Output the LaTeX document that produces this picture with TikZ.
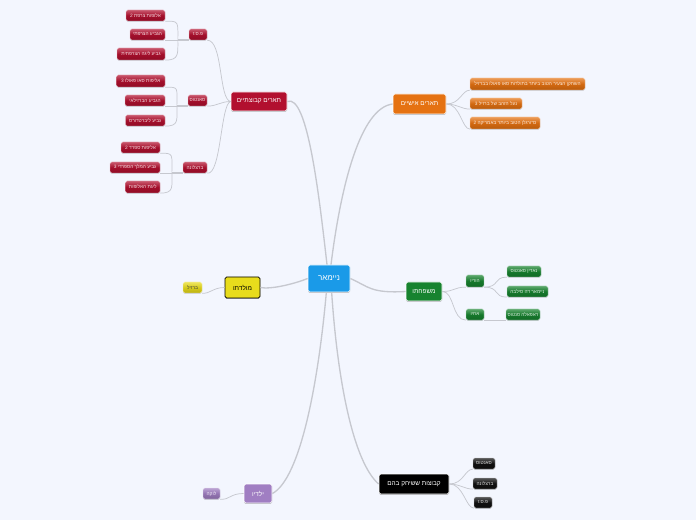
\documentclass[tikz,border=0pt]{standalone}
\usepackage{fontspec}
\usetikzlibrary{shadows}
\TeXXeTstate=1
\newfontfamily\heb[Script=Hebrew]{Liberation Sans}
\newcommand\hh[1]{\heb\beginR #1\endR}
\definecolor{bgc}{HTML}{F3F6FE}
\definecolor{linec}{HTML}{C6C8CF}
\definecolor{redc}{HTML}{B2102F}
\definecolor{orc}{HTML}{E57212}
\definecolor{grc}{HTML}{17832F}
\definecolor{yec}{HTML}{E8DC1C}
\definecolor{puc}{HTML}{A07EC2}
\definecolor{blc}{HTML}{1A9AE8}
\definecolor{bkc}{HTML}{111111}
\tikzset{
  base/.style={rounded corners=1.2pt,inner sep=0pt,text=white},
  dim/.style 2 args={minimum width=#1*0.75pt,minimum height=#2*0.75pt},
  mainn/.style={base,draw=white,line width=0.6pt,font=\fontsize{4.8pt}{6pt}\selectfont,drop shadow={shadow xshift=0pt,shadow yshift=-0.7pt,fill=black,opacity=.3}},
  leaf/.style={base,draw=white!70!#1,line width=0.2pt,font=\fontsize{3.6pt}{5pt}\selectfont,text=white!85!#1,top color=#1!70!white,bottom color=#1!80!black,middle color=#1!92!black,drop shadow={shadow xshift=0pt,shadow yshift=-0.6pt,fill=black,opacity=.15}},
  conn/.style={draw=linec,line width=0.55pt},
  trunk/.style={draw=linec,line width=1pt},
  barline/.style={draw=linec,line width=1pt},
}
\begin{document}
\begin{tikzpicture}[x=0.75pt,y=-0.75pt]
\fill[bgc] (0,0) rectangle (696,520);
\useasboundingbox (0,0) rectangle (696,520);
\path
 (329,278.5) node[mainn,fill=blc,dim={42}{27},font=\fontsize{6pt}{7pt}\selectfont] (c) {\hh{ניימאר}}
 (259,101.5) node[mainn,fill=redc,dim={56}{19}] (tq) {\hh{תארים קבוצתיים}}
 (419.5,104) node[mainn,fill=orc,dim={53}{20}] (ti) {\hh{תארים אישיים}}
 (424,291.5) node[mainn,fill=grc,dim={36}{19}] (fam) {\hh{משפחתו}}
 (242.5,287.5) node[mainn,fill=yec,draw=black,text=black,dim={35}{21}] (mol) {\hh{מולדתו}}
 (414,484) node[mainn,fill=black,dim={70}{20}] (kv) {\hh{קבוצות ששיחק בהם}}
 (258,493.5) node[mainn,fill=puc,dim={28}{19}] (yl) {\hh{ילדיו}}
 (198,34.5) node[leaf=redc,dim={18}{11}] (psg) {\hh{פ.ס.ז}}
 (197.5,100.5) node[leaf=redc,dim={19}{11}] (san) {\hh{סאנטוס}}
 (195,167.5) node[leaf=redc,dim={24}{11}] (bar) {\hh{ברצלונה}}
 (475,281) node[leaf=grc,dim={18}{12}] (hor) {\hh{הוריו}}
 (475,314.5) node[leaf=grc,dim={18}{11}] (ach) {\hh{אחיו}}
 (145.5,15.5) node[leaf=redc,dim={39}{11}] (a1) {\hh{אלופות צרפת 2}}
 (147.5,34.5) node[leaf=redc,dim={35}{11}] (a2) {\hh{הגביע הצרפתי}}
 (141,54) node[leaf=redc,dim={48}{12}] (a3) {\hh{גביע ליגה הצרפתית}}
 (140.75,81) node[leaf=redc,dim={48.5}{12}] (b1) {\hh{אליפות סאו פאולו 3}}
 (145,100.5) node[leaf=redc,dim={40}{11}] (b2) {\hh{הגביע הברזילאי}}
 (145.25,120.5) node[leaf=redc,dim={39.5}{11}] (b3) {\hh{גביע ליברטדורס}}
 (140.5,147.5) node[leaf=redc,dim={39}{11}] (d1) {\hh{אליפות ספרד 2}}
 (135,167.5) node[leaf=redc,dim={50}{11}] (d2) {\hh{גביע המלך הספרדי 3}}
 (142.75,187) node[leaf=redc,dim={34.5}{12}] (d3) {\hh{ליגת האלופות}}
 (527.5,84) node[leaf=orc,dim={115}{12}] (e1) {\hh{השחקן הצעיר הטוב ביותר בתולדות סאו פאולו בברזיל}}
 (496,103.5) node[leaf=orc,dim={52}{11}] (e2) {\hh{נעל הזהב של ברזיל 3}}
 (505,123) node[leaf=orc,dim={70}{12}] (e3) {\hh{כדורגלן הטוב ביותר באמריקה 2}}
 (524,271.5) node[leaf=grc,dim={34}{11}] (f1) {\hh{נאדין סאנטוס}}
 (527.5,291.5) node[leaf=grc,dim={41}{11}] (f2) {\hh{ניימאר דה סילבה}}
 (523,314.5) node[leaf=grc,dim={34}{11}] (f3) {\hh{ראפאלה סנטוס}}
 (192.5,287.5) node[leaf=yec,text=black!75,dim={19}{11}] (m1) {\hh{ברזיל}}
 (484,463.5) node[leaf=bkc,dim={22}{11}] (k1) {\hh{סאנטוס}}
 (485,483.5) node[leaf=bkc,dim={24}{11}] (k2) {\hh{ברצלונה}}
 (483,502.5) node[leaf=bkc,dim={18}{11}] (k3) {\hh{פ.ס.ז}}
 (211.5,493.5) node[leaf=puc,dim={17}{11}] (y1) {\hh{לוקה}};
\draw[trunk] ([xshift=-1.5pt]c.north) .. controls +(-8,-70) and +(20,-8) .. (tq.east);
\draw[trunk] ([xshift=1.5pt]c.north) .. controls +(10,-80) and +(-32,4) .. (ti.west);
\draw[trunk] (c.east) .. controls +(18,8) and +(-35,2) .. (fam.west);
\draw[trunk] (c.west) .. controls +(-15,6) and +(10,2) .. (mol.east);
\draw[trunk] ([xshift=2pt]c.south) .. controls +(6,90) and +(-25,-22) .. (kv.west);
\draw[trunk] ([xshift=-2pt]c.south) .. controls +(-8,90) and +(28,-15) .. (yl.east);
\draw[conn] (tq.west) .. controls +(-12,-2) and +(16,0) .. (psg.south east);
\draw[conn] (tq.west) .. controls +(-10,0) and +(10,0) .. (san.south east);
\draw[conn] (tq.west) .. controls +(-10,2) and +(14,3) .. (bar.south east);
\foreach \p in {psg,san,bar} \draw[barline] (\p.south west) -- +(-11,0);
\draw[conn] (a2.south east) -- (psg.south west);
\draw[conn] (a1.south east) .. controls +(14,0) and +(0,-19) .. ([xshift=-8.25pt]psg.south west);
\draw[conn] (a3.south east) .. controls +(14,0) and +(0,14) .. ([xshift=-8.25pt]psg.south west);
\draw[conn] (b2.south east) -- (san.south west);
\draw[conn] (b1.south east) .. controls +(14,0) and +(0,-19) .. ([xshift=-8.25pt]san.south west);
\draw[conn] (b3.south east) .. controls +(14,0) and +(0,14) .. ([xshift=-8.25pt]san.south west);
\draw[conn] (d2.south east) -- (bar.south west);
\draw[conn] (d1.south east) .. controls +(14,0) and +(0,-19) .. ([xshift=-8.25pt]bar.south west);
\draw[conn] (d3.south east) .. controls +(14,0) and +(0,14) .. ([xshift=-8.25pt]bar.south west);
\draw[conn] (ti.east) .. controls +(14,0) and +(-8,0) .. (e1.south west);
\draw[conn] (ti.east) .. controls +(10,0) and +(-8,0) .. (e2.south west);
\draw[conn] (ti.east) .. controls +(14,0) and +(-8,0) .. (e3.south west);
\draw[conn] (fam.east) .. controls +(12,0) and +(-12,0) .. (hor.south west);
\draw[conn] (fam.east) .. controls +(12,0) and +(-14,0) .. (ach.south west);
\draw[conn] (hor.south east) .. controls +(16,0) and +(-14,0) .. (f1.south west);
\draw[conn] (hor.south east) .. controls +(16,0) and +(-14,0) .. (f2.south west);
\draw[conn] (ach.south east) -- (f3.south west);
\draw[conn] (mol.west) .. controls +(-12,0) and +(8,1) .. (m1.south east);
\draw[conn] (kv.east) .. controls +(14,0) and +(-8,0) .. (k1.south west);
\draw[conn] (kv.east) .. controls +(10,0) and +(-8,0) .. (k2.south west);
\draw[conn] (kv.east) .. controls +(14,0) and +(-8,0) .. (k3.south west);
\draw[conn] (yl.west) .. controls +(-14,0) and +(10,1) .. (y1.south east);
\end{tikzpicture}
\end{document}
